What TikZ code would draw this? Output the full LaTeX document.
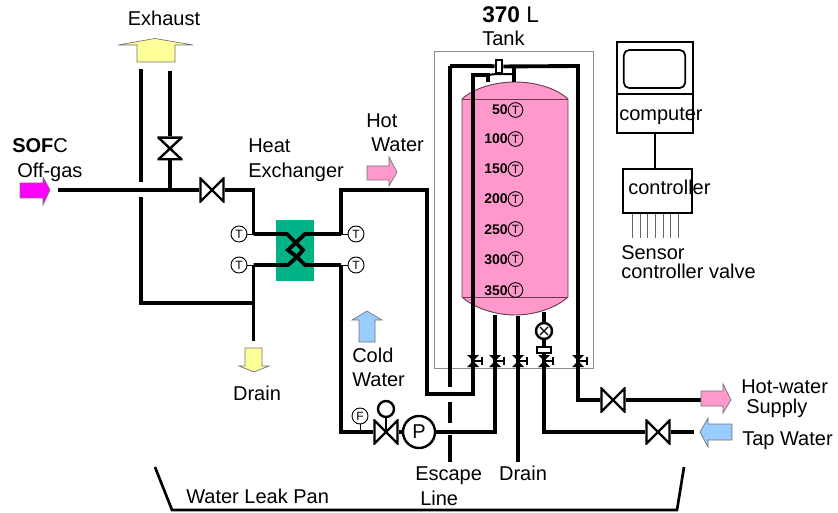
\documentclass[tikz,border=0pt]{standalone}
\usepackage{fontspec}
\setmainfont{Liberation Sans}
\usetikzlibrary{positioning}
\definecolor{tankpink}{HTML}{FF99CC}
\definecolor{hxgreen}{HTML}{00B386}
\definecolor{coldblue}{HTML}{99CCFF}
\definecolor{gasyellow}{HTML}{FFFF99}
\definecolor{gasmagenta}{HTML}{FF00FF}
\tikzset{
	pipe/.style={line width=2.9pt, line join=miter},
	thinline/.style={line width=0.7pt},
	boxline/.style={line width=1.3pt},
	lbl/.style={anchor=base west, inner sep=0pt, font=\fontsize{15}{15}\selectfont},
	lblmid/.style={anchor=base, inner sep=0pt, font=\fontsize{15}{15}\selectfont},
	depth/.style={anchor=base east, inner sep=0pt, font=\fontsize{10.5}{11}\selectfont\bfseries},
	sensor/.style={draw, thinline, circle, fill=white, inner sep=0pt, minimum size=12pt, font=\fontsize{9}{9}\selectfont},
	tanksensor/.style={sensor, fill=none, minimum size=11pt},
	valveh/.style={inner sep=0pt, outer sep=0pt, minimum width=19pt, minimum height=19pt, path picture={
		\draw[line width=1.8pt] ([shift={(0.9pt,-0.9pt)}]path picture bounding box.north west) -- ([shift={(-0.9pt,0.9pt)}]path picture bounding box.south east) -- ([shift={(-0.9pt,-0.9pt)}]path picture bounding box.north east) -- ([shift={(0.9pt,0.9pt)}]path picture bounding box.south west) -- cycle;}},
	valvev/.style={inner sep=0pt, outer sep=0pt, minimum width=19pt, minimum height=18pt, path picture={
		\draw[line width=1.8pt] ([shift={(0.9pt,-0.9pt)}]path picture bounding box.north west) -- ([shift={(-0.9pt,-0.9pt)}]path picture bounding box.north east) -- ([shift={(0.9pt,0.9pt)}]path picture bounding box.south west) -- ([shift={(-0.9pt,0.9pt)}]path picture bounding box.south east) -- cycle;}},
	gaugev/.style={draw, line width=1.8pt, circle, fill=white, inner sep=0pt, minimum size=12pt, path picture={
		\draw[line width=1pt] ([shift={(3pt,-3pt)}]path picture bounding box.north west) -- ([shift={(-3pt,3pt)}]path picture bounding box.south east);
		\draw[line width=1pt] ([shift={(-3pt,-3pt)}]path picture bounding box.north east) -- ([shift={(3pt,3pt)}]path picture bounding box.south west);}},
	flow/.style={draw=black!55, line width=0.5pt},
	smallv/.pic={
		\fill (-6,-6) -- (6,-6) -- (-6,6) -- (6,6) -- cycle;
		\draw[line width=1.3pt] (0,0) -- (9,0);
		\draw[line width=1.5pt] (9,-4) -- (9,4);
	}
}
\begin{document}
\begin{tikzpicture}[x=0.75pt, y=-0.75pt]
	\useasboundingbox (0,0) rectangle (838,513);

	\coordinate (tanktop) at (515,82);
	\coordinate (gasin) at (58,190);
	\coordinate (gastee) at (170,190);
	\coordinate (stackl) at (141,69);
	\coordinate (stackgap) at (141,182);
	\coordinate (bypass) at (141,197);
	\coordinate (bypasscor) at (141,303);
	\coordinate (bypasstee) at (253.5,303);
	\coordinate (stackr) at (170,71);
	\coordinate (hxtl) at (253.5,234);
	\coordinate (hxbl) at (253.5,265);
	\coordinate (hxtr) at (341,234);
	\coordinate (hxbr) at (341,265);
	\coordinate (hotcor) at (341,190);
	\coordinate (drainend) at (253.5,341);
	\coordinate (coldcor) at (341,432);
	\coordinate (hotdown) at (427,190);
	\coordinate (hotlow) at (427,394);
	\coordinate (inlow) at (473,394);
	\coordinate (intop) at (473,75);
	\coordinate (inelbow) at (488,75);
	\coordinate (inend) at (488,82);
	\coordinate (escape) at (450,66);
	\coordinate (escapeend) at (450,387);
	\coordinate (escapea) at (450,402);
	\coordinate (escapeb) at (450,423);
	\coordinate (escapec) at (450,435);
	\coordinate (escaped) at (450,462);
	\coordinate (toplr) at (578,66);
	\coordinate (topel) at (488,66);
	\coordinate (topin) at (514,66);
	\coordinate (topend) at (514,82);
	\coordinate (supplycor) at (578,400);
	\coordinate (supplyend) at (701,400);
	\coordinate (retlow) at (495,432);
	\coordinate (rettank) at (495,315);
	\coordinate (draintank) at (518,316);
	\coordinate (drainlow) at (518,462);
	\coordinate (taptank) at (544,312);
	\coordinate (tapcor) at (544,432);
	\coordinate (tapend) at (694,432);
	\coordinate (panla) at (155,467);
	\coordinate (panlb) at (172,510);
	\coordinate (panrb) at (677,510);
	\coordinate (panra) at (684,467);

	\draw[black!45, line width=0.6pt] (434,51) rectangle (593,368);
	\draw[fill=tankpink, draw=black!60!tankpink, line width=0.7pt] (462,99) .. controls (474,88) and (495,82) .. (tanktop) .. controls (535,82) and (556,88) .. (568,99) -- (568,297) .. controls (556,308) and (535,315) .. (515,315) .. controls (495,315) and (474,308) .. (462,297) -- cycle;
	\draw[black!60!tankpink, line width=0.7pt] (462,99) -- (568,99);
	\draw[black!60!tankpink, line width=0.7pt] (462,297) -- (568,297);

	\node[fill=hxgreen, minimum width=28.5pt, minimum height=46pt, inner sep=0pt] (hx) at (295,250.5) {};

	\node[valvev] (stackv) at (170,148.5) {};
	\node[valveh] (gasv) at (212,190) {};
	\node[valveh] (coldv) at (386,432) {};
	\node[valveh] (supplyv) at (613,400) {};
	\node[valveh] (tapv) at (658,432) {};
	\node[draw, circle, line width=1.8pt, minimum size=24pt, inner sep=0pt, font=\fontsize{15}{15}\selectfont] (pump) at (419,432) {P};
	\node[draw, circle, line width=1.8pt, minimum size=12pt, inner sep=0pt] (coldact) at (386,409) {};
	\node[gaugev] (tapgauge) at (544,331) {};
	\node[draw, line width=1.5pt, fill=white, minimum width=11pt, minimum height=5pt, inner sep=0pt] (strainer) at (544,350) {};
	\node[draw, line width=1.5pt, fill=white, minimum width=5pt, minimum height=10pt, inner sep=0pt] (ventbox) at (499,66.5) {};

	\draw[pipe] (gasin) -- (gasv);
	\draw[pipe] (stackr) -- (stackv);
	\draw[pipe] (stackv) -- (gastee);
	\draw[pipe] (stackl) -- (stackgap);
	\draw[pipe] (bypass) -- (bypasscor) -- (bypasstee);
	\draw[pipe] (gasv) -| (hxtl);
	\draw[pipe] (hxtl) -- (287,234) -- (303,250) -- (297,257) -- (305,265) -- (hxbr);
	\draw[pipe] (hxbl) -- (288,265) -- (297,257) -- (288,250) -- (305,234) -- (hxtr);
	\draw[pipe] (hxbl) -- (drainend);
	\draw[pipe] (hxtr) -- (hotcor) -- (hotdown) -- (hotlow) -- (inlow) -- (intop) -- (inelbow) -- (inend);
	\draw[pipe] (hxbr) -- (coldcor) -- (coldv);
	\draw[pipe] (coldv) -- (pump);
	\draw[line width=1.8pt] (coldact) -- (coldv.center);
	\draw[pipe] (pump) -- (retlow) -- (rettank);
	\draw[pipe] (draintank) -- (drainlow);
	\draw[pipe] (escape) -- (escapeend);
	\draw[pipe] (escapea) -- (escapeb);
	\draw[pipe] (escapec) -- (escaped);
	\draw[pipe] (escape) -- (topel) -- (ventbox);
	\draw[pipe] (ventbox) -- (toplr) -- (supplycor) -- (supplyv);
	\draw[pipe] (topin) -- (topend);
	\draw[line width=1.5pt] (inelbow) -- (ventbox.south west) -- (ventbox.south east) -- (topin |- ventbox.south);
	\draw[pipe] (supplyv) -- (supplyend);
	\draw[pipe] (taptank) -- (tapgauge);
	\draw[pipe] (tapgauge) -- (strainer);
	\draw[pipe] (strainer) -- (tapcor) -- (tapv);
	\draw[pipe] (tapv) -- (tapend);
	\draw[line width=2pt] (panla) -- (panlb) -- (panrb) -- (panra);

	\pic at (473,361) {smallv};
	\pic at (495,361) {smallv};
	\pic at (518,361) {smallv};
	\pic at (544,361) {smallv};
	\pic at (578,361) {smallv};

	\node[sensor] (ta) at (239,234) {T};
	\node[sensor] (tb) at (239,265) {T};
	\node[sensor] (tc) at (356,234) {T};
	\node[sensor] (td) at (356,265) {T};
	\node[sensor] (fm) at (360,416) {F};
	\coordinate (fmtee) at (360,432);
	\draw[thinline] (ta) -- (hxtl);
	\draw[thinline] (tb) -- (hxbl);
	\draw[thinline] (tc) -- (hxtr);
	\draw[thinline] (td) -- (hxbr);
	\draw[thinline] (fm) -- (fmtee);

	\node[tanksensor] (ts50) at (515.5,110) {T};
	\node[tanksensor] (ts100) at (515.5,139) {T};
	\node[tanksensor] (ts150) at (515.5,169) {T};
	\node[tanksensor] (ts200) at (515.5,199) {T};
	\node[tanksensor] (ts250) at (515.5,229) {T};
	\node[tanksensor] (ts300) at (515.5,259) {T};
	\node[tanksensor] (ts350) at (515.5,290) {T};
	\node[depth] (d50) at (508,114.5) {50};
	\node[depth] (d100) at (508,144) {100};
	\node[depth] (d150) at (508,174) {150};
	\node[depth] (d200) at (508,204) {200};
	\node[depth] (d250) at (508,234) {250};
	\node[depth] (d300) at (508,264) {300};
	\node[depth] (d350) at (508,295) {350};

	\node[draw, boxline, minimum width=57pt, minimum height=68.25pt, inner sep=0pt] (comp) at (655,87.5) {};
	\draw[boxline] (comp.west |- 0,94) -- (comp.east |- 0,94);
	\node[draw, boxline, rounded corners=4pt, minimum width=46pt, minimum height=28.5pt, inner sep=0pt] (screen) at (654.5,69) {};
	\node[draw, boxline, minimum width=52pt, minimum height=33pt, inner sep=0pt] (ctrl) at (657.5,191) {};
	\draw[boxline] (comp.south -| 655,0) -- (ctrl.north -| 655,0);
	\coordinate (sa) at (632,238);
	\coordinate (sb) at (640,238);
	\coordinate (sc) at (647,238);
	\coordinate (sd) at (655,238);
	\coordinate (se) at (663,238);
	\coordinate (sf) at (670,238);
	\coordinate (sg) at (678,238);
	\draw[thinline, black!60] (sa) -- (sa |- ctrl.south);
	\draw[thinline, black!60] (sb) -- (sb |- ctrl.south);
	\draw[thinline, black!60] (sc) -- (sc |- ctrl.south);
	\draw[thinline, black!60] (sd) -- (sd |- ctrl.south);
	\draw[thinline, black!60] (se) -- (se |- ctrl.south);
	\draw[thinline, black!60] (sf) -- (sf |- ctrl.south);
	\draw[thinline, black!60] (sg) -- (sg |- ctrl.south);

	\draw[flow, fill=gasyellow] (118,45) -- (155,38.5) -- (193,45) -- (175,45) -- (175,62) -- (137,62) -- (137,45) -- cycle;
	\draw[flow, fill=gasmagenta] (20,183) -- (43,183) -- (43,177) -- (50,190) -- (43,205) -- (43,198) -- (20,198) -- cycle;
	\draw[flow, fill=tankpink] (367,166) -- (389,166) -- (389,157) -- (397,172) -- (389,186) -- (389,180) -- (367,180) -- cycle;
	\draw[flow, fill=coldblue] (359,342) -- (359,320) -- (352,320) -- (367,311) -- (382,320) -- (375,320) -- (375,342) -- cycle;
	\draw[flow, fill=gasyellow] (245,348) -- (262,348) -- (262,366) -- (269,366) -- (254,372) -- (239,366) -- (245,366) -- cycle;
	\draw[flow, fill=tankpink] (701,391) -- (723,391) -- (723,384) -- (731,400) -- (723,413) -- (723,406) -- (701,406) -- cycle;
	\draw[flow, fill=coldblue] (732,424) -- (708,424) -- (708,418) -- (700,432) -- (708,447) -- (708,440) -- (732,440) -- cycle;

	\node[lblmid] (exhlbl) at (164,26) {Exhaust};
	\node[lbl] (soflbl) at (12,153) {\textbf{SOF}C};
	\node[lbl] (gaslbl) at (17,178) {Off-gas};
	\node[lbl] (heatlbl) at (248,153) {Heat};
	\node[lbl] (hxlbl) at (248,178) {Exchanger};
	\node[lbl] (hotlbl) at (366,128) {Hot};
	\node[lbl] (hotwlbl) at (371,152) {Water};
	\node[lbl, font=\fontsize{17}{17}\selectfont] (vollbl) at (482,23) {\textbf{370} L};
	\node[lbl] (tanklbl) at (482,46) {Tank};
	\node[lbl] (complbl) at (619,121) {computer};
	\node[lbl] (ctrllbl) at (628,195) {controller};
	\node[lbl] (senslbl) at (621,259) {Sensor};
	\node[lbl] (cvlbl) at (621,278) {controller valve};
	\node[lbl] (coldlbl) at (352,362) {Cold};
	\node[lbl] (coldwlbl) at (352,386) {Water};
	\node[lblmid] (drlbl) at (257,400) {Drain};
	\node[lblmid] (dr2lbl) at (523,480) {Drain};
	\node[lbl] (esclbl) at (415,480) {Escape};
	\node[lbl] (linelbl) at (420,505) {Line};
	\node[lbl] (panlbl) at (186,503) {Water Leak Pan};
	\node[lbl] (suplbl) at (741,393) {Hot-water};
	\node[lbl] (sup2lbl) at (746,413) {Supply};
	\node[lbl] (taplbl) at (742,445) {Tap Water};
\end{tikzpicture}
\end{document}
